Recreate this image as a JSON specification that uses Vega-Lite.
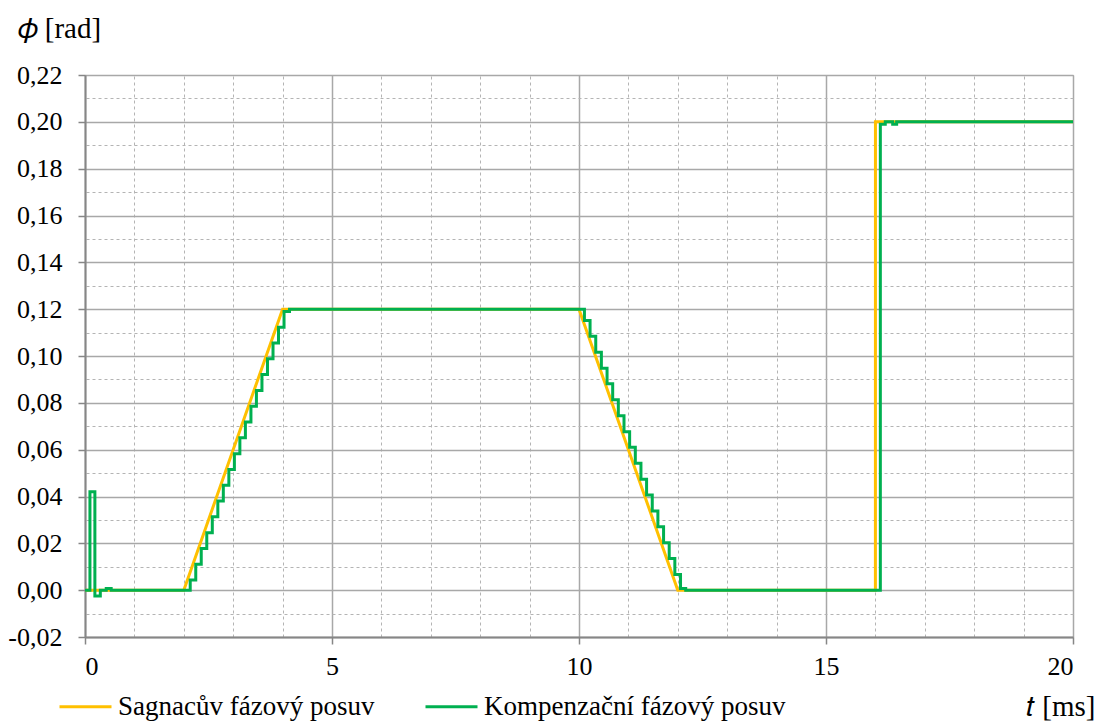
{
  "$schema": "https://vega.github.io/schema/vega-lite/v6.json",
  "width": 988,
  "height": 562,
  "autosize": {"type": "none"},
  "padding": {"left": 85, "top": 75, "right": 26, "bottom": 85},
  "background": "white",
  "config": {
    "view": {"stroke": "#a6a6a6", "strokeWidth": 1},
    "font": "Liberation Serif"
  },
  "datasets": {
    "phase": [
      {"t": 0, "v": 0, "s": "Sagnacův fázový posuv"},
      {"t": 2, "v": 0, "s": "Sagnacův fázový posuv"},
      {"t": 4, "v": 0.12, "s": "Sagnacův fázový posuv"},
      {"t": 10, "v": 0.12, "s": "Sagnacův fázový posuv"},
      {"t": 12, "v": 0, "s": "Sagnacův fázový posuv"},
      {"t": 16, "v": 0, "s": "Sagnacův fázový posuv"},
      {"t": 16.001, "v": 0.2, "s": "Sagnacův fázový posuv"},
      {"t": 20, "v": 0.2, "s": "Sagnacův fázový posuv"},

      {"t": 0, "v": 0, "s": "Kompenzační fázový posuv"},
      {"t": 0.1, "v": 0.042, "s": "Kompenzační fázový posuv"},
      {"t": 0.2, "v": -0.0025, "s": "Kompenzační fázový posuv"},
      {"t": 0.31, "v": 0, "s": "Kompenzační fázový posuv"},
      {"t": 0.43, "v": 0.0007, "s": "Kompenzační fázový posuv"},
      {"t": 0.53, "v": 0, "s": "Kompenzační fázový posuv"},
      {"t": 2.13, "v": 0.0043, "s": "Kompenzační fázový posuv"},
      {"t": 2.242, "v": 0.01105, "s": "Kompenzační fázový posuv"},
      {"t": 2.353, "v": 0.0178, "s": "Kompenzační fázový posuv"},
      {"t": 2.465, "v": 0.02455, "s": "Kompenzační fázový posuv"},
      {"t": 2.577, "v": 0.0313, "s": "Kompenzační fázový posuv"},
      {"t": 2.689, "v": 0.03805, "s": "Kompenzační fázový posuv"},
      {"t": 2.8, "v": 0.0448, "s": "Kompenzační fázový posuv"},
      {"t": 2.912, "v": 0.05155, "s": "Kompenzační fázový posuv"},
      {"t": 3.024, "v": 0.0583, "s": "Kompenzační fázový posuv"},
      {"t": 3.135, "v": 0.06505, "s": "Kompenzační fázový posuv"},
      {"t": 3.247, "v": 0.0718, "s": "Kompenzační fázový posuv"},
      {"t": 3.359, "v": 0.07855, "s": "Kompenzační fázový posuv"},
      {"t": 3.47, "v": 0.0853, "s": "Kompenzační fázový posuv"},
      {"t": 3.582, "v": 0.09205, "s": "Kompenzační fázový posuv"},
      {"t": 3.694, "v": 0.0988, "s": "Kompenzační fázový posuv"},
      {"t": 3.806, "v": 0.10555, "s": "Kompenzační fázový posuv"},
      {"t": 3.917, "v": 0.1123, "s": "Kompenzační fázový posuv"},
      {"t": 4.029, "v": 0.11905, "s": "Kompenzační fázový posuv"},
      {"t": 4.14, "v": 0.12, "s": "Kompenzační fázový posuv"},
      {"t": 10.11, "v": 0.1152, "s": "Kompenzační fázový posuv"},
      {"t": 10.224, "v": 0.1084, "s": "Kompenzační fázový posuv"},
      {"t": 10.339, "v": 0.1016, "s": "Kompenzační fázový posuv"},
      {"t": 10.453, "v": 0.0948, "s": "Kompenzační fázový posuv"},
      {"t": 10.568, "v": 0.0881, "s": "Kompenzační fázový posuv"},
      {"t": 10.682, "v": 0.0813, "s": "Kompenzační fázový posuv"},
      {"t": 10.796, "v": 0.0745, "s": "Kompenzační fázový posuv"},
      {"t": 10.911, "v": 0.0677, "s": "Kompenzační fázový posuv"},
      {"t": 11.025, "v": 0.061, "s": "Kompenzační fázový posuv"},
      {"t": 11.14, "v": 0.0542, "s": "Kompenzační fázový posuv"},
      {"t": 11.254, "v": 0.0474, "s": "Kompenzační fázový posuv"},
      {"t": 11.368, "v": 0.0406, "s": "Kompenzační fázový posuv"},
      {"t": 11.483, "v": 0.0338, "s": "Kompenzační fázový posuv"},
      {"t": 11.597, "v": 0.0271, "s": "Kompenzační fázový posuv"},
      {"t": 11.712, "v": 0.0203, "s": "Kompenzační fázový posuv"},
      {"t": 11.826, "v": 0.0135, "s": "Kompenzační fázový posuv"},
      {"t": 11.94, "v": 0.0067, "s": "Kompenzační fázový posuv"},
      {"t": 12.055, "v": 0.0007, "s": "Kompenzační fázový posuv"},
      {"t": 12.16, "v": 0, "s": "Kompenzační fázový posuv"},
      {"t": 16.1, "v": 0.199, "s": "Kompenzační fázový posuv"},
      {"t": 16.2, "v": 0.2, "s": "Kompenzační fázový posuv"},
      {"t": 16.35, "v": 0.199, "s": "Kompenzační fázový posuv"},
      {"t": 16.43, "v": 0.2, "s": "Kompenzační fázový posuv"},
      {"t": 20, "v": 0.2, "s": "Kompenzační fázový posuv"}
    ]
  },
  "data": {"name": "phase"},
  "resolve": {"axis": {"x": "independent", "y": "independent"}},
  "layer": [
    {
      "transform": [{"filter": "datum.s === 'Sagnacův fázový posuv'"}],
      "mark": {"type": "line", "strokeWidth": 3, "interpolate": "linear"},
      "encoding": {
        "x": {
          "field": "t", "type": "quantitative",
          "scale": {"domain": [0, 20], "nice": false, "zero": false},
          "axis": {
            "orient": "top", "values": [1,2,3,4,6,7,8,9,11,12,13,14,16,17,18,19],
            "grid": true, "gridDash": [3, 3], "gridColor": "#b4b4b4", "gridWidth": 1,
            "domain": false, "ticks": false, "labels": false, "title": null
          }
        },
        "y": {
          "field": "v", "type": "quantitative",
          "scale": {"domain": [-0.02, 0.22], "nice": false, "zero": false},
          "axis": {
            "orient": "right", "values": [-0.01,0.01,0.03,0.05,0.07,0.09,0.11,0.13,0.15,0.17,0.19,0.21],
            "grid": true, "gridDash": [3, 3], "gridColor": "#b4b4b4", "gridWidth": 1,
            "domain": false, "ticks": false, "labels": false, "title": null
          }
        },
        "color": {
          "field": "s", "type": "nominal",
          "scale": {
            "domain": ["Sagnacův fázový posuv", "Kompenzační fázový posuv"],
            "range": ["#FFC000", "#00B050"]
          },
          "legend": {
            "orient": "none", "legendX": -27, "legendY": 604,
            "direction": "horizontal", "title": null,
            "symbolType": "stroke", "symbolSize": 2704, "symbolStrokeWidth": 3,
            "labelFont": "Liberation Serif", "labelFontSize": 27, "labelColor": "black",
            "labelOffset": 5, "columnPadding": 44, "labelLimit": 500
          }
        }
      }
    },
    {
      "transform": [{"filter": "datum.s === 'Kompenzační fázový posuv'"}],
      "mark": {"type": "line", "strokeWidth": 3, "interpolate": "step-after"},
      "encoding": {
        "x": {
          "field": "t", "type": "quantitative",
          "axis": {
            "orient": "bottom", "values": [0, 5, 10, 15, 20],
            "grid": true, "gridColor": "#a8a8a8", "gridWidth": 1.5,
            "domain": true, "domainColor": "#868686", "domainWidth": 2,
            "ticks": true, "tickColor": "#868686", "tickSize": 7, "tickWidth": 1.5,
            "labelFont": "Liberation Serif", "labelFontSize": 26, "labelColor": "black", "labelPadding": 9,
            "title": "𝑡 [ms]", "titleFont": "Liberation Serif", "titleFontSize": 29, "titleFontWeight": "normal",
            "titleColor": "black", "titleAlign": "right", "titleAnchor": null, "titleX": 1010, "titleY": 78, "titleBaseline": "alphabetic"
          }
        },
        "y": {
          "field": "v", "type": "quantitative",
          "axis": {
            "orient": "left", "values": [-0.02,0,0.02,0.04,0.06,0.08,0.1,0.12,0.14,0.16,0.18,0.2,0.22],
            "grid": true, "gridColor": "#a8a8a8", "gridWidth": 1.5,
            "domain": true, "domainColor": "#868686", "domainWidth": 2,
            "ticks": true, "tickColor": "#868686", "tickSize": 7, "tickWidth": 1.5,
            "labelFont": "Liberation Serif", "labelFontSize": 26, "labelColor": "black", "labelPadding": 16,
            "labelExpr": "replace(replace(format(datum.value, '.2f'), '.', ','), '−', '-')",
            "title": "𝜙 [rad]", "titleFont": "Liberation Serif", "titleFontSize": 29, "titleFontWeight": "normal",
            "titleColor": "black", "titleAngle": 0, "titleAlign": "left", "titleAnchor": null,
            "titleX": -68, "titleY": -38, "titleBaseline": "alphabetic"
          }
        },
        "color": {"field": "s", "type": "nominal"}
      }
    }
  ]
}
